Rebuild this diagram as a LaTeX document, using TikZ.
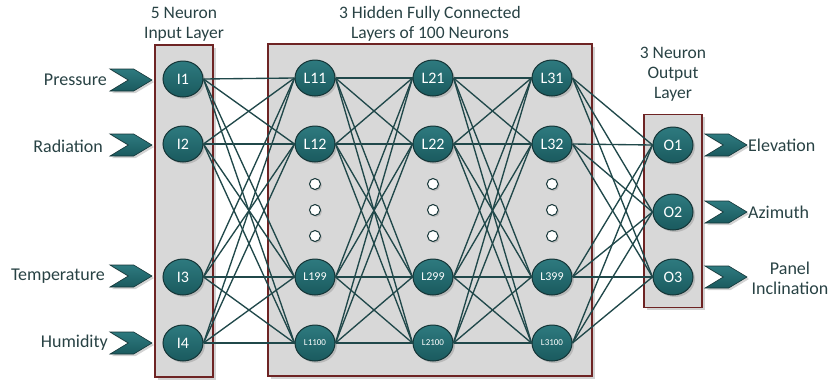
\documentclass[tikz,border=0pt]{standalone}
\usepackage{fontspec}
\setmainfont{Carlito}
\usetikzlibrary{shadows,shapes.symbols,shapes.geometric}
\definecolor{labeltext}{RGB}{40,66,68}
\definecolor{neurontop}{RGB}{46,122,127}
\definecolor{neuronbot}{RGB}{26,90,94}
\definecolor{neuronrim}{RGB}{20,52,54}
\definecolor{linkcol}{RGB}{32,72,74}
\definecolor{boxfill}{RGB}{216,216,216}
\definecolor{boxrim}{RGB}{110,36,36}
\begin{document}
\begin{tikzpicture}[x=1pt,y=-1pt,
  layerbox/.style={draw=boxrim, line width=1.3pt, fill=boxfill, inner sep=0pt,
    drop shadow={shadow xshift=2.5pt, shadow yshift=-2.5pt, opacity=0.35}},
  neuron/.style={ellipse, draw=neuronrim, line width=1pt, minimum width=40pt, minimum height=36pt,
    inner sep=0pt, top color=neurontop, bottom color=neuronbot, text=white,
    font=\fontsize{16}{18}\selectfont,
    drop shadow={shadow xshift=2pt, shadow yshift=-2pt, opacity=0.35}},
  midneuron/.style={neuron, font=\fontsize{12}{14}\selectfont},
  lastneuron/.style={neuron, font=\fontsize{9}{11}\selectfont},
  gapdot/.style={circle, draw=neuronrim, line width=1pt, fill=white, minimum size=11pt, inner sep=0pt,
    drop shadow={shadow xshift=1.5pt, shadow yshift=-1.5pt, opacity=0.35}},
  chev/.style={signal, signal from=west, signal to=east, signal pointer angle=62,
    top color=neurontop, bottom color=neuronbot, draw=neuronrim, line width=0.6pt,
    minimum width=42pt, minimum height=22pt, inner sep=0pt,
    drop shadow={shadow xshift=2pt, shadow yshift=-2pt, opacity=0.35}},
  link/.style={draw=linkcol, line width=1.35pt},
  lbl/.style={text=labeltext, font=\fontsize{18}{20}\selectfont, inner sep=0pt},
  title/.style={text=labeltext, font=\fontsize{17.5}{20}\selectfont, align=center, inner sep=0pt}
]
\useasboundingbox (0,0) rectangle (833,381);

% layer frames
\node[layerbox, minimum width=58pt, minimum height=332pt] (inbox) at (184,211) {};
\node[layerbox, minimum width=324pt, minimum height=332pt] (hidbox) at (430,210) {};
\node[layerbox, minimum width=58pt, minimum height=193pt] (outbox) at (673,211) {};

% titles
\node[title] (tin) at (184,24) {5 Neuron\\Input Layer};
\node[title] (thid) at (430,24) {3 Hidden Fully Connected\\Layers of 100 Neurons};
\node[title] (tout) at (673,74) {3 Neuron\\Output\\Layer};

% input neurons
\node[neuron] (I1) at (183,79) {I1};
\node[neuron] (I2) at (183,144) {I2};
\node[neuron] (I3) at (183,277) {I3};
\node[neuron] (I4) at (183,343) {I4};

% hidden neurons
\foreach \c/\x in {1/315,2/433,3/552}{
  \node[neuron] (L\c1) at (\x,78) {L\c1};
  \node[neuron] (L\c2) at (\x,144) {L\c2};
  \node[midneuron] (L\c99) at (\x,277) {L\c99};
  \node[lastneuron] (L\c100) at (\x,343) {L\c100};
  \node[gapdot] (D\c a) at (\x,184) {};
  \node[gapdot] (D\c b) at (\x,210) {};
  \node[gapdot] (D\c c) at (\x,236) {};
}

% output neurons
\node[neuron] (O1) at (673,145) {O1};
\node[neuron] (O2) at (673,212) {O2};
\node[neuron] (O3) at (673,277) {O3};

% connections
\foreach \a in {I1,I2,I3,I4}
  \foreach \b in {L11,L12,L199,L1100}
    \draw[link] (\a.east) -- (\b.west);
\foreach \a in {L11,L12,L199,L1100}
  \foreach \b in {L21,L22,L299,L2100}
    \draw[link] (\a.east) -- (\b.west);
\foreach \a in {L21,L22,L299,L2100}
  \foreach \b in {L31,L32,L399,L3100}
    \draw[link] (\a.east) -- (\b.west);
\foreach \a in {L31,L32,L399,L3100}
  \foreach \b in {O1,O2,O3}
    \draw[link] (\a.east) -- (\b.west);

% input arrows and labels
\node[chev] (A1) at (131,80) {};
\node[chev] (A2) at (131,145) {};
\node[chev] (A3) at (131,276) {};
\node[chev] (A4) at (131,343) {};
\node[lbl, anchor=east] (P1) at (107,80) {Pressure};
\node[lbl, anchor=east] (P2) at (103,146) {Radiation};
\node[lbl, anchor=east] (P3) at (105,276) {Temperature};
\node[lbl, anchor=east] (P4) at (108,343) {Humidity};

% output arrows and labels
\node[chev] (B1) at (726,145) {};
\node[chev] (B2) at (726,212) {};
\node[chev] (B3) at (726,277) {};
\node[lbl, anchor=west] (Q1) at (748,145) {Elevation};
\node[lbl, anchor=west] (Q2) at (748,212) {Azimuth};
\node[lbl, align=center] (Q3) at (790,278) {Panel\\Inclination};
\end{tikzpicture}
\end{document}
